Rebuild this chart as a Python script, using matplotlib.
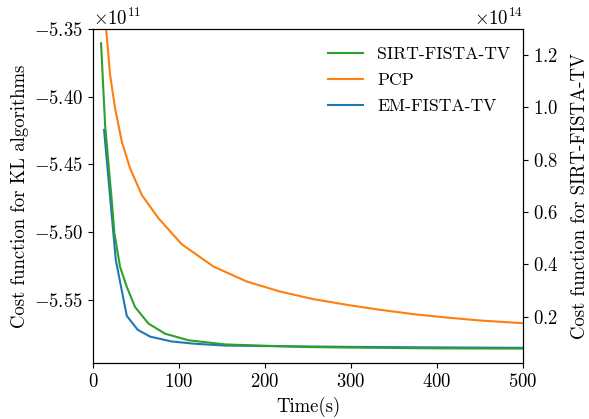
import matplotlib
matplotlib.use('Agg')
import matplotlib.pyplot as plt

plt.rcParams['font.family'] = 'serif'
plt.rcParams['font.serif'] = ['cmr10', 'DejaVu Serif']
plt.rcParams['mathtext.fontset'] = 'cm'
plt.rcParams['axes.formatter.use_mathtext'] = True
plt.rcParams['font.size'] = 13.5

# time (s) and cost values
t_sirt = [9.3, 14, 17.5, 21.7, 24.8, 31.4, 39.2, 48.8, 64.3, 83.7, 110.8, 153.5, 200, 250, 300, 400, 500]
sirt = [1.244e14, 0.932e14, 0.800e14, 0.645e14, 0.519e14, 0.390e14, 0.314e14, 0.237e14, 0.174e14,
        0.135e14, 0.110e14, 0.094e14, 0.089e14, 0.084e14, 0.082e14, 0.079e14, 0.078e14]

t_pcp = [12, 15.1, 19.8, 25.6, 33.4, 43.0, 56.6, 75.9, 103, 139.9, 178.7, 217.4, 256, 295,
         333.7, 372.5, 411, 450, 500]
pcp = [-5.330e11, -5.3495e11, -5.3840e11, -5.4086e11, -5.4332e11, -5.4529e11, -5.4726e11,
       -5.4898e11, -5.5090e11, -5.5255e11, -5.5366e11, -5.5440e11, -5.5496e11, -5.5538e11,
       -5.5575e11, -5.5607e11, -5.5632e11, -5.5654e11, -5.5674e11]

t_em = [12.8, 26.4, 39.2, 52, 66.3, 91.5, 118.6, 153.5, 200, 300, 400, 500]
em = [-5.4246e11, -5.5206e11, -5.5620e11, -5.5723e11, -5.5773e11, -5.5809e11, -5.5826e11,
      -5.5839e11, -5.5843e11, -5.5849e11, -5.5853e11, -5.5856e11]

fig = plt.figure(figsize=(5.89, 4.19), dpi=100)
ax = fig.add_axes([0.158, 0.133, 0.73, 0.798])
ax2 = ax.twinx()

l1, = ax2.plot(t_sirt, sirt, color='#2ca02c', label='SIRT-FISTA-TV')
l2, = ax.plot(t_pcp, pcp, color='#ff7f0e', label='PCP')
l3, = ax.plot(t_em, em, color='#1f77b4', label='EM-FISTA-TV')

ax.set_xlim(0, 500)
ax.set_ylim(-5.597e11, -5.35e11)
ax2.set_ylim(0.022e14, 1.299e14)
ax.set_yticks([-5.55e11, -5.50e11, -5.45e11, -5.40e11, -5.35e11])
ax2.set_yticks([0.2e14, 0.4e14, 0.6e14, 0.8e14, 1.0e14, 1.2e14])

ax.set_xlabel('Time(s)')
ax.set_ylabel('Cost function for KL algorithms')
ax2.set_ylabel('Cost function for SIRT-FISTA-TV', labelpad=9)

ax.legend(handles=[l1, l2, l3], loc='upper right', frameon=False, fontsize=12.7,
          labelspacing=0.62, bbox_to_anchor=(1.007, 0.995))

fig.savefig('out.png', dpi=100)
